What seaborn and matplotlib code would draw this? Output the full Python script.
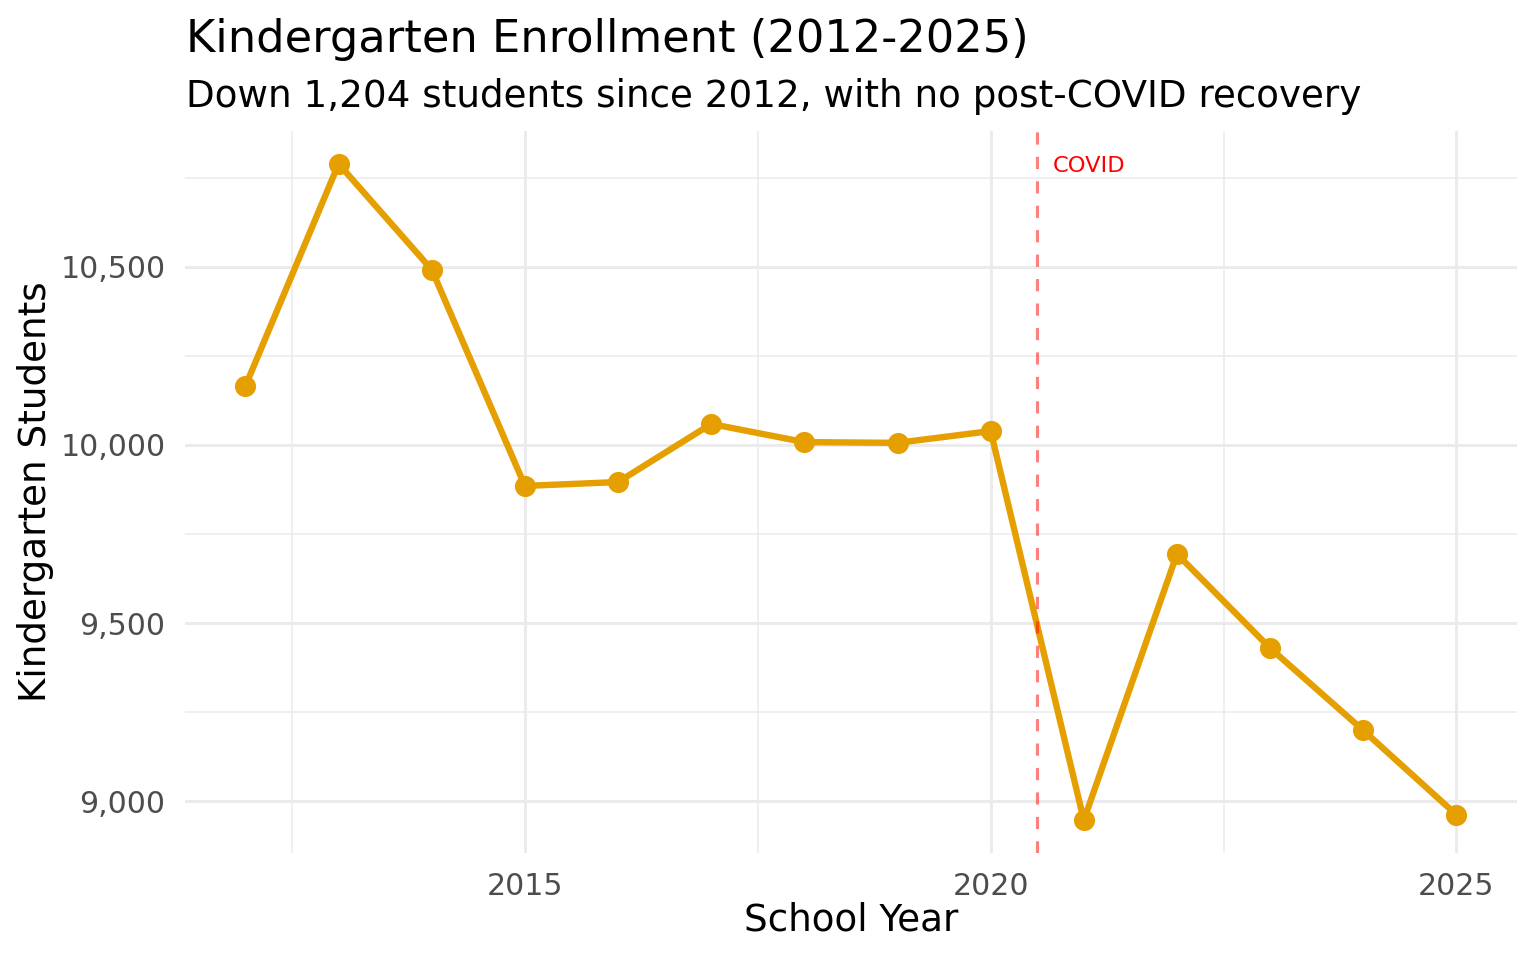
import numpy as np
import pandas as pd
import matplotlib
matplotlib.use("Agg")
import matplotlib.pyplot as plt
import matplotlib.ticker as mticker
import seaborn as sns

# Enrollment values
years = [2012, 2013, 2014, 2015, 2016, 2017, 2018, 2019, 2020, 2021, 2022, 2023, 2024, 2025]
students = [10166, 10789, 10492, 9885, 9896, 10059, 10008, 10006, 10039, 8947, 9694, 9430, 9199, 8962]
covid_year = 2020.5
covid_label = "COVID"

x_ticks = [2015, 2020, 2025]
x_minor = [2012.5, 2017.5, 2022.5]
y_ticks = [9000, 9500, 10000, 10500]
y_minor = [9250, 9750, 10250, 10750]

title = "Kindergarten Enrollment (2012-2025)"
subtitle = "Down 1,204 students since 2012, with no post-COVID recovery"

df = pd.DataFrame({"year": years, "students": students})

sns.set_theme(style="white")
plt.rcParams['font.family'] = ['DejaVu Sans']
plt.rcParams['text.color'] = 'black'
plt.rcParams['axes.labelcolor'] = 'black'

fig = plt.figure(figsize=(7.68, 4.8), dpi=200)
ax = fig.add_axes([0.1204, 0.1115, 0.8672, 0.752])

grid_col = "#EBEBEB"
ax.set_xticks(x_ticks)
ax.set_xticks(x_minor, minor=True)
ax.set_yticks(y_ticks)
ax.set_yticks(y_minor, minor=True)
ax.grid(True, which="major", color=grid_col, linewidth=1.07)
ax.grid(True, which="minor", color=grid_col, linewidth=0.55)
ax.set_axisbelow(True)

sns.lineplot(data=df, x="year", y="students", color="#E69F00", linewidth=2.3,
             marker="o", markersize=7.6, markeredgewidth=0, ax=ax, zorder=3)

ax.axvline(covid_year, color="red", alpha=0.5, linewidth=1.1,
           linestyle=(0, (4, 4)), zorder=4)
ax.text(covid_year + 0.17, max(students), covid_label, color="red",
        fontsize=8.1, ha="left", va="center_baseline", zorder=5)

# ggplot-ish 5% expansion
span_x = max(years) - min(years)
span_y = max(students) - min(students)
ax.set_xlim(min(years) - 0.05 * span_x, max(years) + 0.05 * span_x)
ax.set_ylim(min(students) - 0.05 * span_y, max(students) + 0.05 * span_y)

ax.yaxis.set_major_formatter(mticker.FuncFormatter(lambda v, p: f"{v:,.0f}"))
ax.tick_params(axis="both", which="both", length=0, labelsize=10.8,
               labelcolor="#4D4D4D")
ax.tick_params(axis="x", pad=7)
ax.tick_params(axis="y", pad=7)

for s in ax.spines.values():
    s.set_visible(False)

ax.set_xlabel("School Year", fontsize=13.4, color="black", va="center")
ax.set_ylabel("Kindergarten Students", fontsize=13.4, color="black", va="center")
ax.xaxis.set_label_coords(0.5, -0.093)
ax.yaxis.set_label_coords(-0.1125, 0.5)

fig.text(0.1211, 0.9458, title, fontsize=16.1, color="black", ha="left", va="baseline")
fig.text(0.1211, 0.8885, subtitle, fontsize=13.4, color="black", ha="left", va="baseline")

fig.savefig("out.png", dpi=200, facecolor="white")
